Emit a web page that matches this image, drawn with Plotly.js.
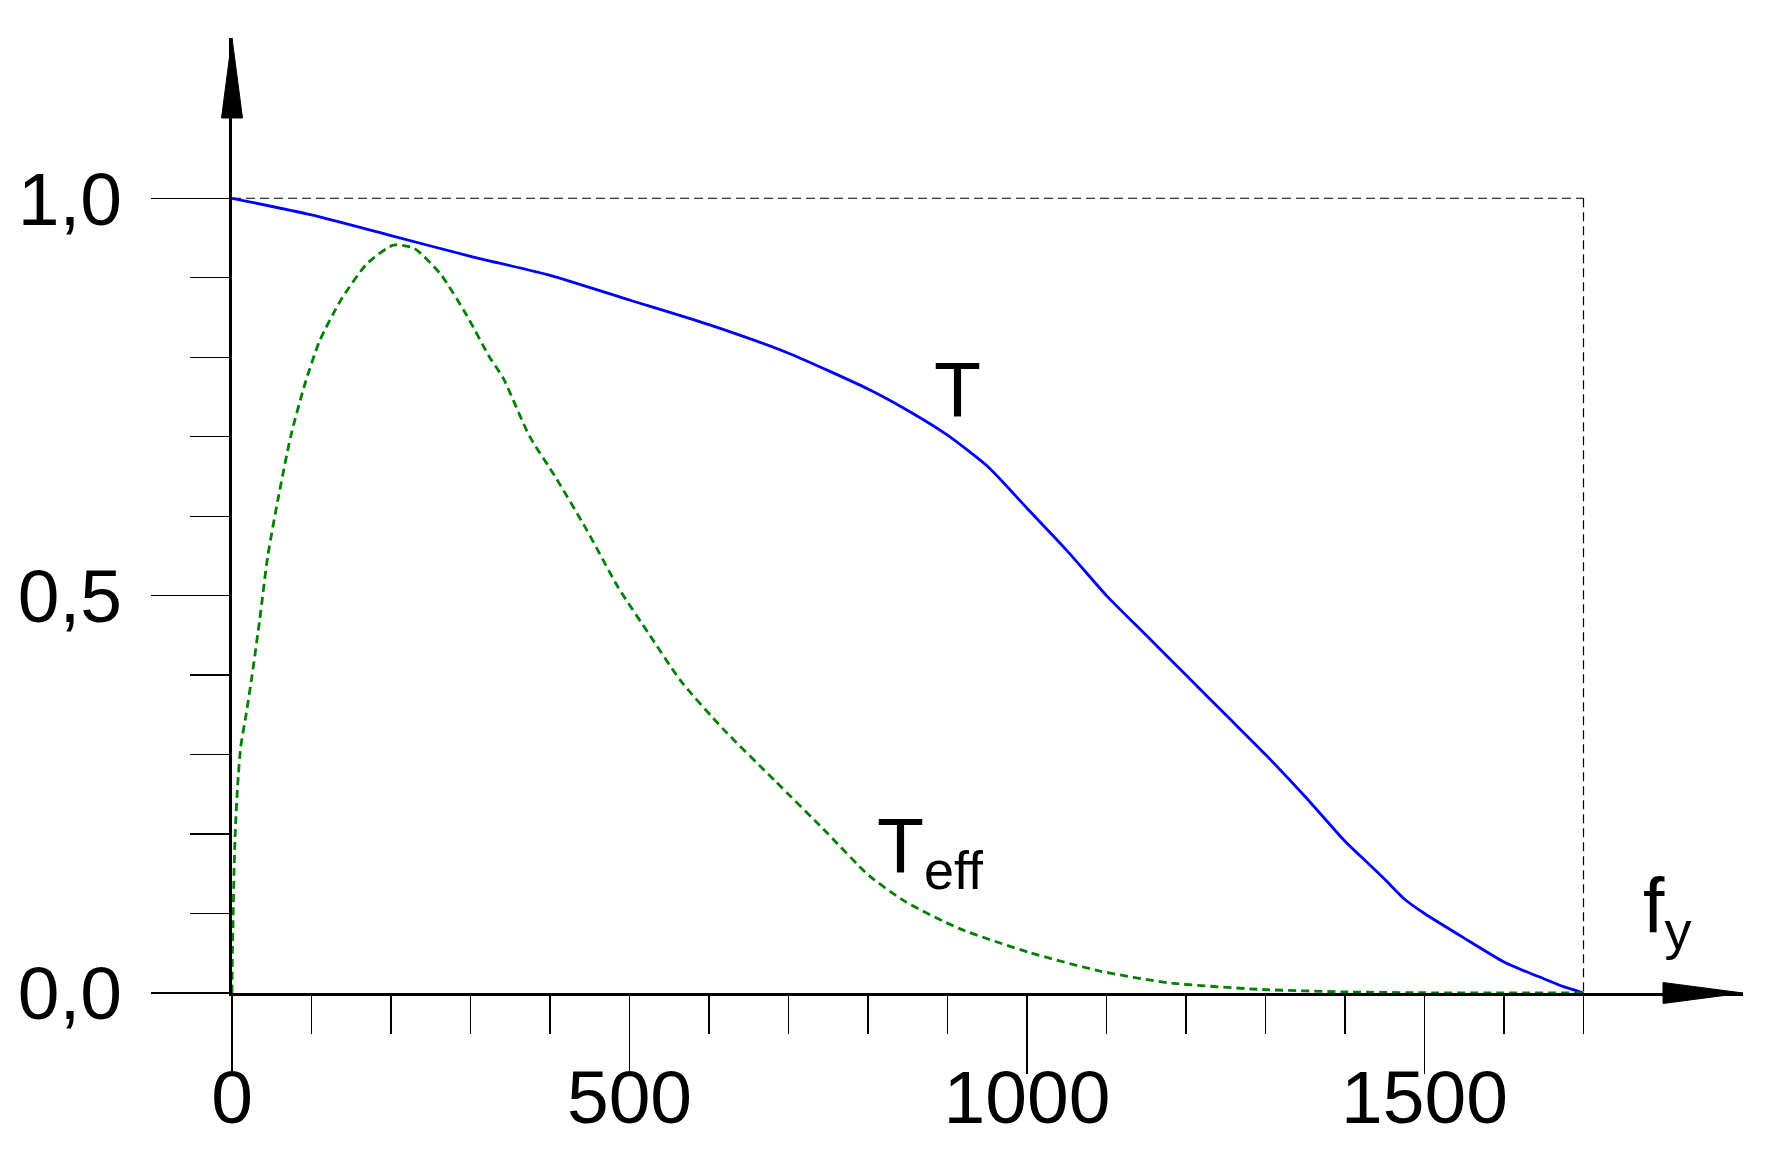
<!DOCTYPE html>
<html>
<head>
<meta charset="utf-8">
<script src="https://cdn.plot.ly/plotly-3.0.1.min.js"></script>
<style>html,body{margin:0;padding:0;background:#fff;}#chart{width:1781px;height:1175px;}</style>
</head>
<body>
<div id="chart"></div>
<script>
// ---- data ----
const T_x = [0,100,200,300,400,500,600,700,800,850,900,950,1000,1050,1100,1150,1200,1250,1300,1350,1400,1425,1450,1475,1500,1550,1600,1625,1650,1675,1700];
const T_y = [1.0,0.979,0.953,0.927,0.903,0.872,0.841,0.805,0.760,0.733,0.702,0.663,0.610,0.557,0.500,0.450,0.400,0.350,0.300,0.247,0.191,0.167,0.143,0.118,0.100,0.069,0.039,0.028,0.018,0.008,0.0];

const Teff_x = [0,0.5,1.3,2.5,4,7,11,18,25,35,45,58,74,91,110,137,170,203,229,262,295,324,341,374,407,446,486,525,565,617,683,749,801,847,915,1003,1090,1177,1292,1408,1500,1600,1700];
const Teff_y = [0,0.05,0.09,0.15,0.20,0.26,0.31,0.352,0.398,0.471,0.550,0.622,0.701,0.764,0.820,0.872,0.918,0.941,0.937,0.905,0.853,0.800,0.774,0.701,0.649,0.583,0.510,0.451,0.392,0.333,0.267,0.201,0.148,0.115,0.081,0.051,0.028,0.013,0.0046,0.0012,0.0003,0,0];

const xMajorTicks = [0,500,1000,1500];
const xMajorText = ["0","500","1000","1500"];
const xMinorTicks = [100,200,300,400,600,700,800,900,1100,1200,1300,1400,1600,1700];
const yMajorTicks = [0,0.5,1.0];
const yMajorText = ["0,0","0,5","1,0"];
const yMinorTicks = [0.1,0.2,0.3,0.4,0.6,0.7,0.8,0.9];

const xLimit = 1700;   // end of the dashed frame
const yLimit = 1.0;

// ---- geometry (pixels) ----
const W = 1781, H = 1175;
const PX0 = 232.3, PY0 = 993.3;    // pixel position of data origin
const XTIP = 1743.3, YTIP = 38;    // arrow tips
const PX_PER_X = 0.795, PX_PER_Y = 795;
const xMax = (XTIP - PX0) / PX_PER_X;
const yMax = (PY0 - YTIP) / PX_PER_Y;

function px2paperX(px){ return (px - PX0) / (XTIP - PX0); }
function px2paperY(py){ return (PY0 - py) / (PY0 - YTIP); }

const ARROW_LEN = 80, ARROW_HALF = 10.5;
const xArrow = 'M ' + px2paperX(XTIP) + ',' + px2paperY(PY0) +
  ' L ' + px2paperX(XTIP - ARROW_LEN) + ',' + px2paperY(PY0 - ARROW_HALF) +
  ' L ' + px2paperX(XTIP - ARROW_LEN) + ',' + px2paperY(PY0 + ARROW_HALF) + ' Z';
const yArrow = 'M ' + px2paperX(PX0) + ',' + px2paperY(YTIP) +
  ' L ' + px2paperX(PX0 - ARROW_HALF) + ',' + px2paperY(YTIP + ARROW_LEN) +
  ' L ' + px2paperX(PX0 + ARROW_HALF) + ',' + px2paperY(YTIP + ARROW_LEN) + ' Z';

const tickFont = {family: '"Liberation Sans", Arial, sans-serif', size: 75, color: '#000'};
const labelFont = {family: '"Liberation Sans", Arial, sans-serif', size: 77, color: '#000'};

const traces = [
  {x: T_x, y: T_y, type: 'scatter', mode: 'lines', name: 'T', cliponaxis: false,
   line: {color: '#0000ff', width: 2.8, shape: 'spline', smoothing: 0.6}, hoverinfo: 'x+y'},
  {x: Teff_x, y: Teff_y, type: 'scatter', mode: 'lines', name: 'Teff', cliponaxis: false,
   line: {color: '#008000', width: 2.8, dash: '8px,5px', shape: 'spline', smoothing: 0.6}, hoverinfo: 'x+y'}
];

const axisCommon = {
  showline: true, linewidth: 3, linecolor: '#000', showgrid: false, zeroline: false,
  ticks: 'outside', tickwidth: 1.2, tickcolor: '#000', tickfont: tickFont,
  tickmode: 'array', layer: 'below traces', fixedrange: true
};

const layout = {
  width: W, height: H,
  margin: {l: PX0, r: W - XTIP, t: YTIP, b: H - PY0, pad: 0},
  paper_bgcolor: '#fff', plot_bgcolor: '#fff',
  showlegend: false,
  xaxis: Object.assign({}, axisCommon, {
    range: [0, xMax], tickvals: xMajorTicks, ticktext: xMajorText, ticklen: 78,
    ticklabelstandoff: -41,
    minor: {tickmode: 'array', tickvals: xMinorTicks, ticks: 'outside', ticklen: 38, tickwidth: 1.2, tickcolor: '#000', showgrid: false}
  }),
  yaxis: Object.assign({}, axisCommon, {
    range: [0, yMax], tickvals: yMajorTicks, ticktext: yMajorText, ticklen: 78,
    ticklabelstandoff: 14,
    minor: {tickmode: 'array', tickvals: yMinorTicks, ticks: 'outside', ticklen: 39, tickwidth: 1.2, tickcolor: '#000', showgrid: false}
  }),
  shapes: [
    {type: 'line', xref: 'x', yref: 'y', x0: 0, y0: yLimit, x1: xLimit, y1: yLimit, layer: 'below',
     line: {color: '#000', width: 1.2, dash: '9px,5px'}},
    {type: 'line', xref: 'x', yref: 'y', x0: xLimit, y0: yLimit, x1: xLimit, y1: 0, layer: 'below',
     line: {color: '#000', width: 1.2, dash: '9px,5px'}},
    {type: 'path', xref: 'paper', yref: 'paper', path: xArrow, fillcolor: '#000', line: {color: '#000', width: 1}},
    {type: 'path', xref: 'paper', yref: 'paper', path: yArrow, fillcolor: '#000', line: {color: '#000', width: 1}}
  ],
  annotations: [
    {text: 'T', x: (958 - PX0) / PX_PER_X, y: (PY0 - 390.5) / PX_PER_Y, xref: 'x', yref: 'y',
     xanchor: 'center', yanchor: 'middle', showarrow: false, font: labelFont},
    {text: 'T<sub>eff</sub>', x: (875.5 - PX0) / PX_PER_X, y: (PY0 - 801.3) / PX_PER_Y, xref: 'x', yref: 'y',
     xanchor: 'left', yanchor: 'top', showarrow: false, font: labelFont},
    {text: 'f<sub>y</sub>', x: (1641 - PX0) / PX_PER_X, y: (PY0 - 861.6) / PX_PER_Y, xref: 'x', yref: 'y',
     xanchor: 'left', yanchor: 'top', showarrow: false, font: labelFont}
  ]
};

Plotly.newPlot('chart', traces, layout, {displayModeBar: false, staticPlot: true});
</script>
</body>
</html>
